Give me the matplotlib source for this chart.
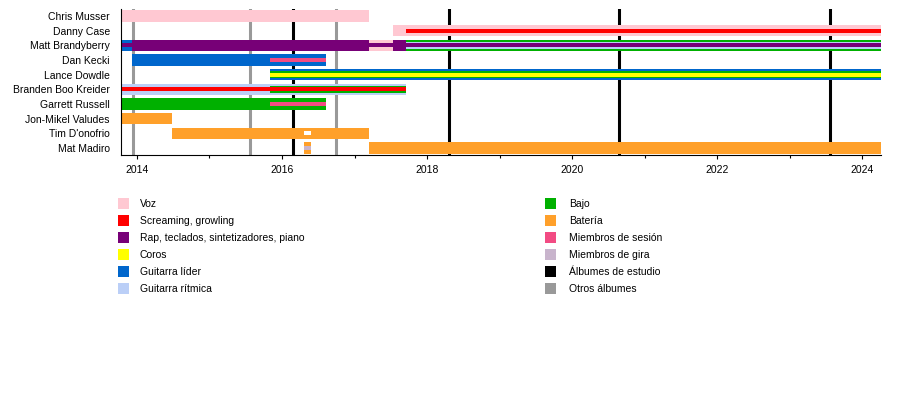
import matplotlib
matplotlib.use("Agg")
import matplotlib.pyplot as plt
from matplotlib.patches import Rectangle

# --- data -------------------------------------------------------------
START = 2013.78
END = 2024.26

members = ["Chris Musser", "Danny Case", "Matt Brandyberry", "Dan Kecki",
           "Lance Dowdle", "Branden Boo Kreider", "Garrett Russell",
           "Jon-Mikel Valudes", "Tim D'onofrio", "Mat Madiro"]

roles = ["Voz", "Screaming, growling", "Rap, teclados, sintetizadores, piano",
         "Coros", "Guitarra líder", "Guitarra rítmica",
         "Bajo", "Batería", "Miembros de sesión", "Miembros de gira"]
role_colors = ["#ffc8d2", "#ff0000", "#770077", "#ffff00", "#0066cc", "#bbcff7",
               "#00b000", "#ffa02a", "#f24b83", "#c8b4cc"]

# (member, role, start, end, layer)  layer 0 = full bar, 1 = middle, 2 = thin
segments = [
    ("Chris Musser", "Voz", START, 2017.2, 0),
    ("Danny Case", "Voz", 2017.53, END, 0),
    ("Danny Case", "Screaming, growling", 2017.71, END, 2),
    ("Matt Brandyberry", "Guitarra líder", START, 2013.93, 0),
    ("Matt Brandyberry", "Rap, teclados, sintetizadores, piano", START, 2013.93, 2),
    ("Matt Brandyberry", "Rap, teclados, sintetizadores, piano", 2013.93, 2017.2, 0),
    ("Matt Brandyberry", "Voz", 2017.2, 2017.53, 0),
    ("Matt Brandyberry", "Rap, teclados, sintetizadores, piano", 2017.2, 2017.53, 2),
    ("Matt Brandyberry", "Rap, teclados, sintetizadores, piano", 2017.53, 2017.71, 0),
    ("Matt Brandyberry", "Bajo", 2017.71, END, 0),
    ("Matt Brandyberry", "Guitarra rítmica", 2017.71, END, 1),
    ("Matt Brandyberry", "Rap, teclados, sintetizadores, piano", 2017.71, END, 2),
    ("Dan Kecki", "Guitarra líder", 2013.93, 2016.6, 0),
    ("Dan Kecki", "Miembros de sesión", 2015.83, 2016.6, 2),
    ("Lance Dowdle", "Guitarra líder", 2015.83, END, 0),
    ("Lance Dowdle", "Bajo", 2015.83, END, 1),
    ("Lance Dowdle", "Coros", 2015.83, END, 2),
    ("Branden Boo Kreider", "Guitarra rítmica", START, 2017.71, 0),
    ("Branden Boo Kreider", "Bajo", 2015.83, 2017.71, 1),
    ("Branden Boo Kreider", "Screaming, growling", START, 2017.71, 2),
    ("Garrett Russell", "Bajo", START, 2016.6, 0),
    ("Garrett Russell", "Miembros de sesión", 2015.83, 2016.6, 2),
    ("Jon-Mikel Valudes", "Batería", START, 2014.48, 0),
    ("Tim D'onofrio", "Batería", 2014.48, 2017.2, 0),
    ("Tim D'onofrio", "", 2016.3, 2016.4, 2),
    ("Mat Madiro", "Batería", 2016.3, 2016.4, 0),
    ("Mat Madiro", "Miembros de gira", 2016.3, 2016.4, 2),
    ("Mat Madiro", "Batería", 2017.2, END, 0),
]

studio_albums = [2016.15, 2018.3, 2020.65, 2023.56]
other_albums = [2013.94, 2015.56, 2016.745]

year_ticks = [2014, 2016, 2018, 2020, 2022, 2024]

legend_left = roles[:6]
legend_right = roles[6:] + ["Álbumes de estudio", "Otros álbumes"]
legend_right_colors = role_colors[6:] + ["#000000", "#999999"]

# --- drawing ----------------------------------------------------------
plt.rcParams['font.family'] = ['Liberation Sans', 'DejaVu Sans']
plt.rcParams['font.size'] = 7.5

W, H = 900, 394
fig = plt.figure(figsize=(W / 100, H / 100), dpi=100)
ax = fig.add_axes([121 / W, 1 - 155 / H, 760 / W, 146 / H])

heights = {0: 0.78, 1: 0.5, 2: 0.26}
color_of = dict(zip(roles, role_colors))
color_of[""] = "#ffffff"

for member, role, start, end, layer in segments:
    ax.barh(members.index(member), end - start, left=start, height=heights[layer],
            color=color_of[role], linewidth=0, zorder=3 + layer)

for x in studio_albums:
    ax.axvline(x, color="black", lw=2.2, zorder=1)
for x in other_albums:
    ax.axvline(x, color="#999999", lw=2.2, zorder=1)

ax.set_xlim(START, END)
ax.set_ylim(len(members) - 0.52, -0.48)
ax.set_yticks(range(len(members)))
ax.set_yticklabels(members)
ax.tick_params(axis="y", length=0, pad=8)
ax.set_xticks(year_ticks)
ax.set_xticks(range(2014, 2025), minor=True)
ax.tick_params(axis="x", which="major", length=3, width=0.8, pad=4)
ax.tick_params(axis="x", which="minor", length=2, width=0.8)
for s in ["top", "right"]:
    ax.spines[s].set_visible(False)
for s in ["left", "bottom"]:
    ax.spines[s].set_linewidth(0.8)
    ax.spines[s].set_zorder(10)


def legend_column(labels, colors, x_box, x_text):
    for i, (lab, col) in enumerate(zip(labels, colors)):
        yc = 204 + 17 * i
        fig.add_artist(Rectangle((x_box / W, 1 - (yc + 5) / H), 11 / W, 11 / H,
                                 transform=fig.transFigure, color=col, lw=0))
        fig.text(x_text / W, 1 - yc / H, lab, va="center", ha="left")


legend_column(legend_left, role_colors[:6], 118, 140)
legend_column(legend_right, legend_right_colors, 545, 569)

fig.savefig("out.png", dpi=100)
